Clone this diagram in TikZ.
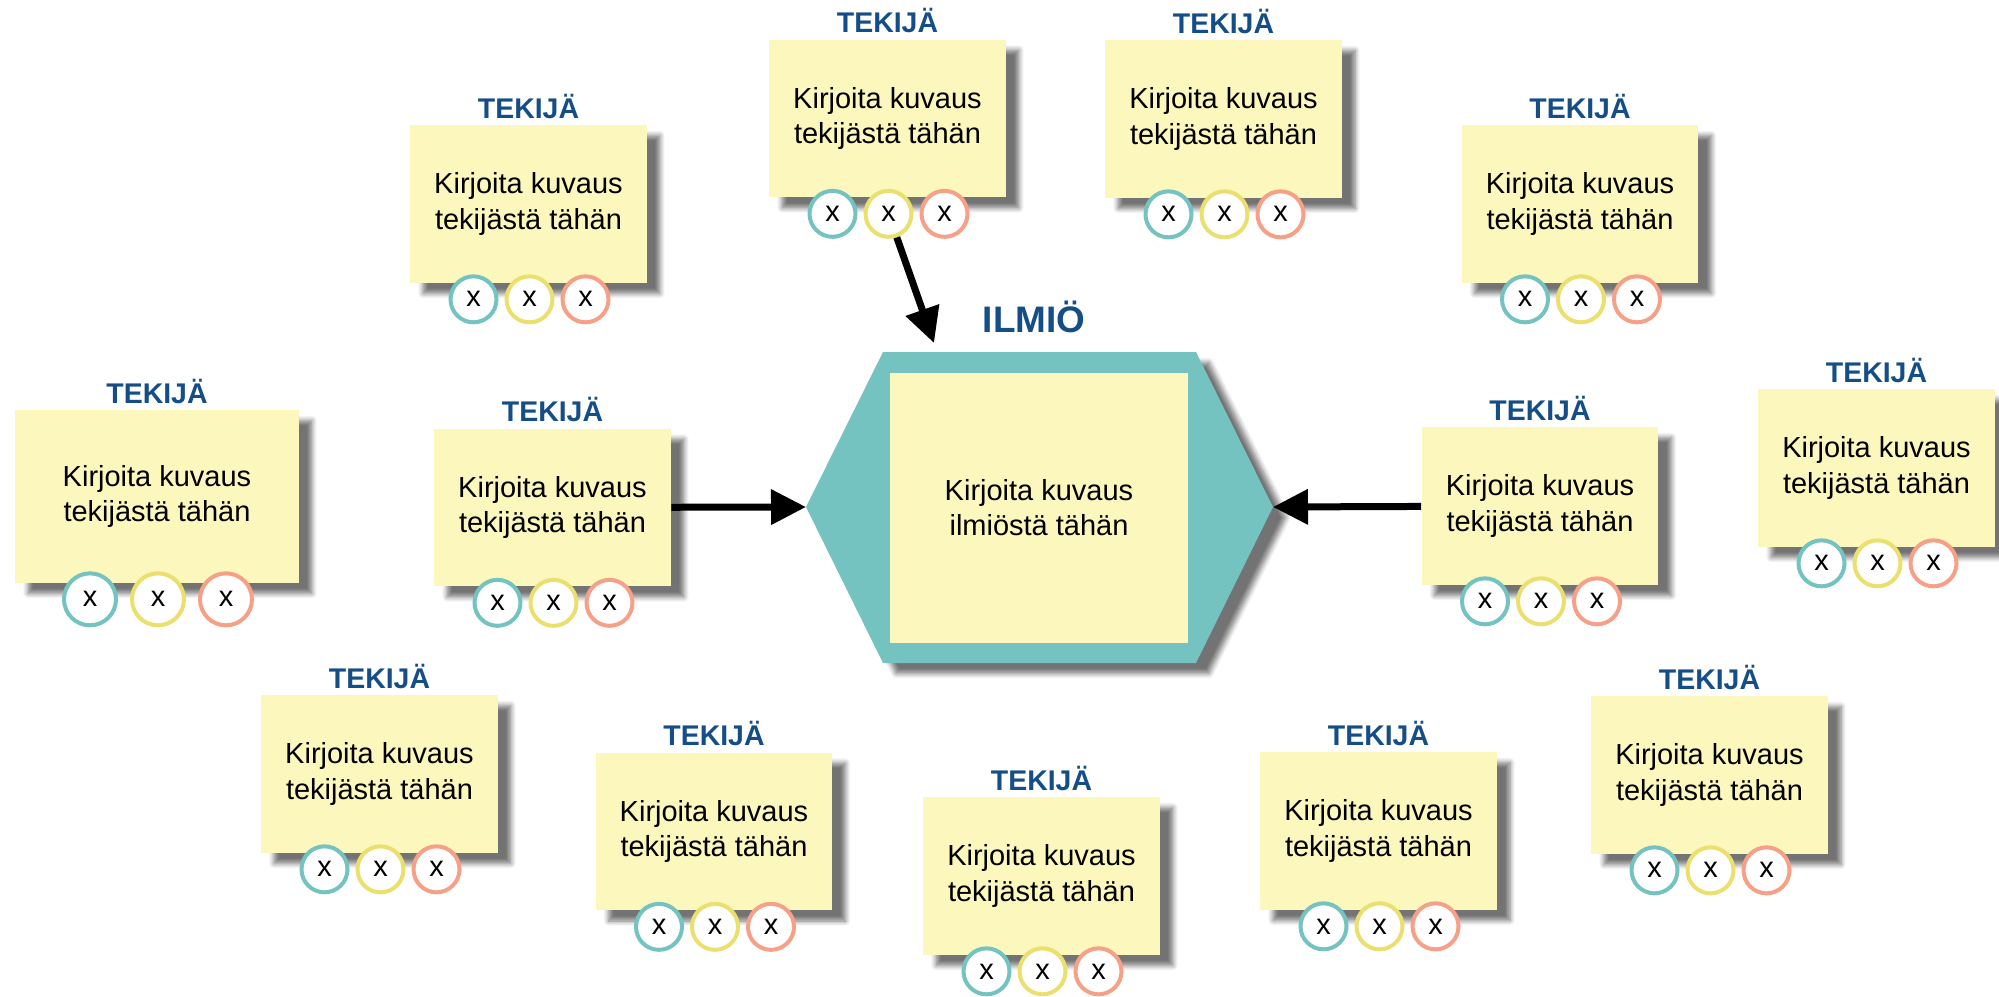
\documentclass[tikz,border=0pt]{standalone}
\usepackage{fontspec}
\setmainfont{Liberation Sans}
\usetikzlibrary{positioning, arrows.meta, shadows.blur}

\definecolor{notefill}{HTML}{FCF7BC}
\definecolor{hexteal}{HTML}{74C3C1}
\definecolor{tealring}{HTML}{74C3C1}
\definecolor{yellowring}{HTML}{EBDF6E}
\definecolor{salmonring}{HTML}{F7A088}
\definecolor{titleblue}{HTML}{154E87}

\begin{document}
\begin{tikzpicture}[x=0.02cm, y=-0.02cm,
    card/.style={fill=notefill, align=center, inner sep=0pt, font=\fontsize{16.5}{20}\selectfont},
    shade/.style={blur shadow={shadow xshift=0.26cm, shadow yshift=-0.21cm, shadow blur radius=0.1cm, shadow blur steps=6, shadow opacity=55}},
    title/.style={text=titleblue, inner sep=0pt, font=\bfseries\fontsize{16.2}{19}\selectfont},
    ball/.style={circle, draw=#1, fill=white, line width=0.08cm, inner sep=0pt, font=\fontsize{16.5}{18}\selectfont},
    arr/.style={-{Triangle[length=0.7cm, width=0.68cm, fill=black]}, line width=0.14cm}]

    \useasboundingbox (0,0) rectangle (1999,997);

    % Phenomenon in the middle
    \coordinate (hexW) at (806,507);
    \coordinate (hexE) at (1273,507);
    \coordinate (hexTop) at (934,343);
    \fill[hexteal, shade] (hexW) -- (883,352) -- (1196,352) -- (hexE) -- (1196,663) -- (883,663) -- cycle;
    \node[card, minimum width=5.96cm, minimum height=5.4cm] (ilmio) at (1039,508) {Kirjoita kuvaus\\ilmiöstä tähän};
    \node[title, font=\bfseries\fontsize{21}{25}\selectfont, anchor=base] (ilmio-t) at (1034,332) {ILMIÖ};

    % Factor notes with their three rings
    \foreach \n/\x/\y/\w/\h/\r/\d in {
        A/528.5/204/4.74/3.16/0.92/56, B/887.5/118.5/4.74/3.16/0.92/56,
        C/1223.5/119/4.74/3.16/0.92/56, D/1580/204/4.74/3.16/0.92/56,
        E/157/496.5/5.68/3.46/1.04/68, F/552.5/507.5/4.74/3.16/0.92/56,
        G/1540/506/4.74/3.16/0.92/56, H/1876.5/468/4.74/3.16/0.92/56,
        I/379.5/774/4.74/3.16/0.92/56, J/714/831.5/4.74/3.16/0.92/56,
        K/1041.5/876/4.74/3.16/0.92/56, L/1378.5/831/4.74/3.16/0.92/56,
        M/1709.5/775/4.74/3.16/0.92/56} {
        \node[card, shade, minimum width=\w cm, minimum height=\h cm] (\n) at (\x,\y) {Kirjoita kuvaus\\tekijästä tähän};
        \node[title, above=3.4pt of \n] (\n-t) {TEKIJÄ};
        \node[ball=tealring, minimum size=\r cm] (\n-1) at ([shift={(1-\d,16)}]\n.south) {x};
        \node[ball=yellowring, minimum size=\r cm] (\n-2) at ([shift={(1,16)}]\n.south) {x};
        \node[ball=salmonring, minimum size=\r cm] (\n-3) at ([shift={(1+\d,16)}]\n.south) {x};
    }

    % Arrows into the phenomenon
    \begin{scope}[y=1cm]
        \draw[arr] (B-2) -- (hexTop);
        \draw[arr] (F) -- (hexW);
        \draw[arr] (G) -- (hexE);
    \end{scope}
\end{tikzpicture}
\end{document}
